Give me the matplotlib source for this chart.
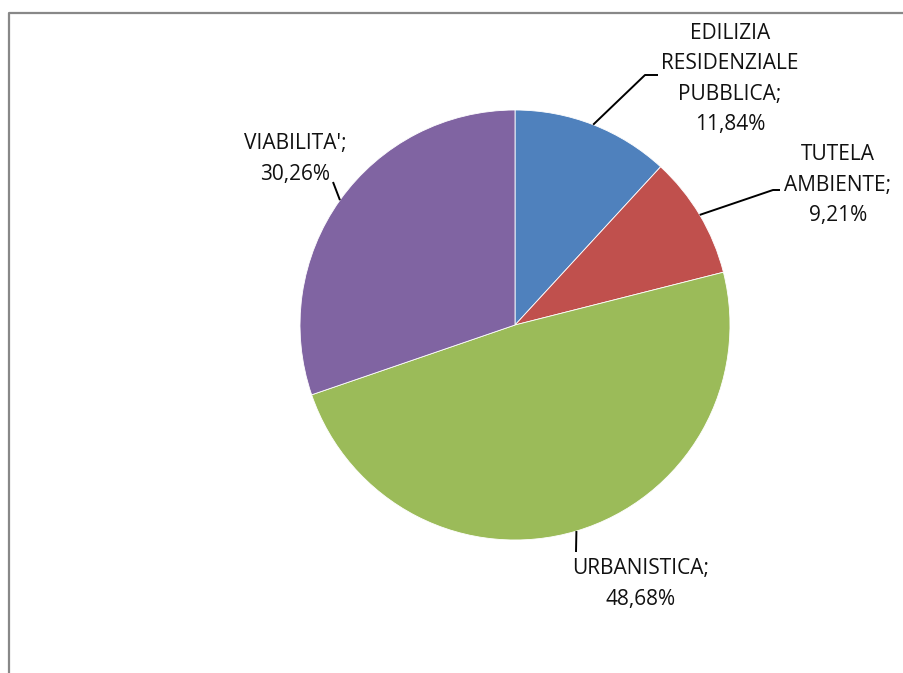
import numpy as np
import matplotlib.pyplot as plt

# slice data (clockwise from 12 o'clock)
categories = ["EDILIZIA\nRESIDENZIALE\nPUBBLICA", "TUTELA\nAMBIENTE", "URBANISTICA", "VIABILITA'"]
shares = [11.84, 9.21, 48.68, 30.26]
colors = ["#4F81BD", "#C0504D", "#9BBB59", "#8064A2"]

# layout in pixel coords (y down)
W, H = 904, 673
cx, cy, R = 515, 325, 215
label_xy = [(730, 79), (838, 185), (641, 584), (295, 159)]
elbow_xy = [(645, 75), (773, 190), (576, 552), (333, 182)]
tail_xy = [(658, 75), (780, 190), None, None]

fig = plt.figure(figsize=(W / 100, H / 100), dpi=100)
ax = fig.add_axes([0, 0, 1, 1])

# y axis is inverted below, so startangle=-90 / counterclock=True
# gives a visually clockwise pie starting at the top
ax.pie(shares, colors=colors, startangle=-90, counterclock=True,
       center=(cx, cy), radius=R, frame=True,
       wedgeprops=dict(linewidth=0.6, edgecolor="white"))
ax.set_xlim(0, W)
ax.set_ylim(H, 0)
ax.set_aspect("equal")
ax.axis("off")

# leader lines from the middle of each slice edge
cum = np.cumsum([0] + shares[:-1])
for i, (cat, v) in enumerate(zip(categories, shares)):
    mid = np.deg2rad((cum[i] + v / 2) / 100 * 360)
    sx = cx + R * np.sin(mid)
    sy = cy - R * np.cos(mid)
    xs = [sx, elbow_xy[i][0]]
    ys = [sy, elbow_xy[i][1]]
    if tail_xy[i] is not None:
        xs.append(tail_xy[i][0])
        ys.append(tail_xy[i][1])
    ax.plot(xs, ys, color="black", lw=1.4, solid_capstyle="butt")
    txt = f"{cat};\n" + f"{v:.2f}%".replace(".", ",")
    ax.text(label_xy[i][0], label_xy[i][1], txt, ha="center", va="center",
            multialignment="center", fontsize=15, family="Open Sans",
            color="#111111", linespacing=1.58)

# chart border (left and top visible)
ax.plot([9.5, 9.5, W + 5], [H + 5, 12.5, 12.5], color="#888888", lw=1.6)

fig.savefig("out.png", dpi=100)
